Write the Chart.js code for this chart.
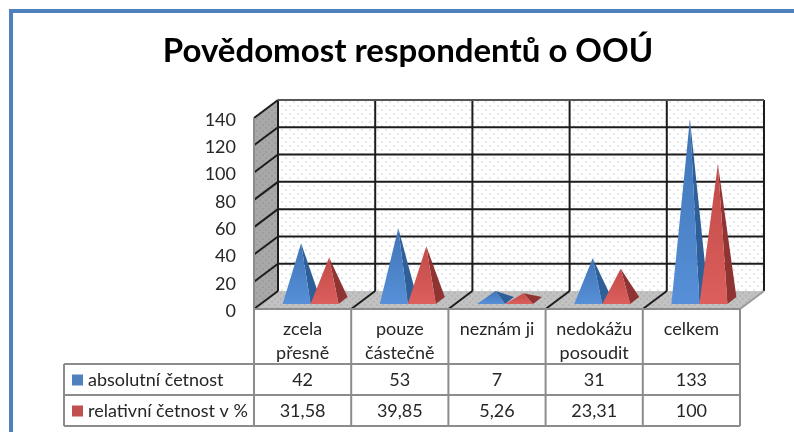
<!DOCTYPE html>
<html lang="cs">
<head>
<meta charset="utf-8">
<title>Povědomost respondentů o OOÚ</title>
<script src="https://cdn.jsdelivr.net/npm/chart.js@4"></script>
<style>
    html, body { margin: 0; padding: 0; background: #fff; }
    canvas { display: block; }
</style>
</head>
<body>
<canvas id="chart" width="794" height="432"></canvas>
<script>
const chartTitle = "Povědomost respondentů o OOÚ";
const categories = [["zcela", "přesně"], ["pouze", "částečně"], ["neznám ji"], ["nedokážu", "posoudit"], ["celkem"]];
const seriesNames = ["absolutní četnost", "relativní četnost v %"];
const absolutni = [42, 53, 7, 31, 133];
const relativni = [31.58, 39.85, 5.26, 23.31, 100];
const yTicks = [0, 20, 40, 60, 80, 100, 120, 140];

const FONT = "Lato, 'Open Sans', sans-serif";
const DEPTH_X = 24, DEPTH_Y = 18;        // back wall offset from the front plane
const COL_SHIFT = 8;                     // pyramids sit a bit back from the front edge
const BASE_GAP = 5, PYR_DX = 9, PYR_DY = 7;
const colors = [
    { top: "#3f74b6", bottom: "#5790d8", side: "#2f5f98", swatch: "#4f81bd" },
    { top: "#c04a48", bottom: "#dc5f5c", side: "#8f3432", swatch: "#c0504d" }
];

function dots(bg, dot, size) {
    const c = document.createElement("canvas");
    c.width = c.height = size;
    const g = c.getContext("2d");
    g.fillStyle = bg;
    g.fillRect(0, 0, size, size);
    g.fillStyle = dot;
    g.fillRect(1, 1, 2, 2);
    g.fillRect(1 + size / 2, 1 + size / 2, 2, 2);
    return g.createPattern(c, "repeat");
}

function poly(ctx, pts, fill) {
    ctx.beginPath();
    pts.forEach((p, i) => i ? ctx.lineTo(p[0], p[1]) : ctx.moveTo(p[0], p[1]));
    ctx.closePath();
    ctx.fillStyle = fill;
    ctx.fill();
}

function line(ctx, x1, y1, x2, y2, color, width) {
    ctx.beginPath();
    ctx.moveTo(x1, y1);
    ctx.lineTo(x2, y2);
    ctx.strokeStyle = color;
    ctx.lineWidth = width;
    ctx.stroke();
}

// the frame round the whole picture
const framePlugin = {
    id: "frame",
    beforeDraw(chart) {
        const ctx = chart.ctx;
        ctx.save();
        ctx.fillStyle = "#fff";
        ctx.fillRect(0, 0, 794, 432);
        ctx.fillStyle = "#4f81bd";
        ctx.fillRect(9, 9, 785, 4);
        ctx.fillRect(9, 9, 4, 423);
        ctx.restore();
    }
};

// walls, floor and grid of the fake 3D box, placed from the real scales
const wallsPlugin = {
    id: "walls",
    beforeDatasetsDraw(chart) {
        const ctx = chart.ctx, x = chart.scales.x, y = chart.scales.y;
        const a = chart.chartArea;
        const step = x.getPixelForValue(1) - x.getPixelForValue(0);
        ctx.save();
        poly(ctx, [[a.left + DEPTH_X, a.top - DEPTH_Y], [a.right + DEPTH_X, a.top - DEPTH_Y],
                   [a.right + DEPTH_X, a.bottom - DEPTH_Y], [a.left + DEPTH_X, a.bottom - DEPTH_Y]],
             dots("#ffffff", "#e2e7ed", 8));
        poly(ctx, [[a.left, a.top], [a.left + DEPTH_X, a.top - DEPTH_Y],
                   [a.left + DEPTH_X, a.bottom - DEPTH_Y], [a.left, a.bottom]],
             dots("#a8a8a8", "#9e9e9e", 6));
        poly(ctx, [[a.left, a.bottom], [a.left + DEPTH_X, a.bottom - DEPTH_Y],
                   [a.right + DEPTH_X, a.bottom - DEPTH_Y], [a.right, a.bottom]],
             dots("#c2c2c2", "#b6b6b6", 6));

        yTicks.forEach(v => {
            const py = y.getPixelForValue(v);
            if (v > 0) {
                line(ctx, a.left, py, a.left + DEPTH_X, py - DEPTH_Y, "#1c1c1c", 2);
                line(ctx, a.left + DEPTH_X, py - DEPTH_Y, a.right + DEPTH_X, py - DEPTH_Y, "#1c1c1c", 2);
            }
        });
        categories.forEach((c, i) => {
            const px = x.getPixelForValue(i) - step / 2;
            line(ctx, px + DEPTH_X, a.top - DEPTH_Y, px + DEPTH_X, a.bottom - DEPTH_Y, "#1c1c1c", 2);
            line(ctx, px + DEPTH_X, a.bottom - DEPTH_Y, px, a.bottom, "#1c1c1c", 2);
        });
        line(ctx, a.right + DEPTH_X, a.top - DEPTH_Y, a.right + DEPTH_X, a.bottom - DEPTH_Y, "#1c1c1c", 2);
        line(ctx, a.right + DEPTH_X, a.bottom - DEPTH_Y, a.right, a.bottom, "#9a9a9a", 2);
        line(ctx, a.left + DEPTH_X, a.top - DEPTH_Y, a.right + DEPTH_X, a.top - DEPTH_Y, "#555", 2);
        line(ctx, a.left, a.top, a.left, a.bottom, "#8c8c8c", 2);
        ctx.restore();
    }
};

// pyramids on top of the (transparent) bars, so they follow the bar positions
const pyramidPlugin = {
    id: "pyramids",
    afterDatasetsDraw(chart) {
        const ctx = chart.ctx;
        ctx.save();
        categories.forEach((c, i) => {
            chart.data.datasets.forEach((ds, d) => {
                const el = chart.getDatasetMeta(d).data[i];
                const half = el.width / 2;
                const cx = el.x + COL_SHIFT;
                const baseY = el.base - BASE_GAP;
                const apex = [cx + PYR_DX / 2, el.y - BASE_GAP - PYR_DY / 2];
                const col = colors[d];
                poly(ctx, [[cx + half, baseY], [cx + half + PYR_DX, baseY - PYR_DY], apex], col.side);
                const grad = ctx.createLinearGradient(0, apex[1], 0, baseY);
                grad.addColorStop(0, col.top);
                grad.addColorStop(1, col.bottom);
                poly(ctx, [[cx - half, baseY], [cx + half, baseY], apex], grad);
            });
        });
        ctx.restore();
    }
};

// data table under the x axis, with the legend keys in its first column
const tablePlugin = {
    id: "dataTable",
    afterDraw(chart) {
        const ctx = chart.ctx, x = chart.scales.x, a = chart.chartArea;
        const rowTops = [364, 395, 426];
        const rows = [absolutni, relativni];
        const left = 64, grey = "#8c8c8c";
        const step = x.getPixelForValue(1) - x.getPixelForValue(0);
        ctx.save();
        line(ctx, a.left, a.bottom, a.right, a.bottom, grey, 2);
        rowTops.forEach(t => line(ctx, left, t, a.right, t, grey, 2));
        line(ctx, left, rowTops[0], left, rowTops[2], grey, 2);
        for (let i = 0; i <= categories.length; i++) {
            const px = x.getPixelForValue(i) - step / 2;
            line(ctx, px, a.bottom, px, rowTops[2], grey, 2);
        }
        ctx.font = "18px " + FONT;
        ctx.textBaseline = "middle";
        rows.forEach((vals, r) => {
            const mid = (rowTops[r] + rowTops[r + 1]) / 2;
            ctx.fillStyle = colors[r].swatch;
            ctx.fillRect(72, mid - 5, 11, 11);
            ctx.fillStyle = "#262626";
            ctx.textAlign = "left";
            ctx.fillText(seriesNames[r], 88, mid + 1);
            ctx.textAlign = "center";
            vals.forEach((v, i) => ctx.fillText(String(v).replace(".", ","), x.getPixelForValue(i), mid + 1));
        });
        ctx.restore();
    }
};

new Chart(document.getElementById("chart"), {
    type: "bar",
    data: {
        labels: categories,
        datasets: [
            { label: seriesNames[0], data: absolutni, backgroundColor: "transparent", barThickness: 28 },
            { label: seriesNames[1], data: relativni, backgroundColor: "transparent", barThickness: 28 }
        ]
    },
    options: {
        responsive: false,
        animation: false,
        layout: { padding: { left: 76, right: 54, top: 0, bottom: 0 } },
        plugins: {
            legend: { display: false },
            tooltip: { enabled: false },
            title: {
                display: true,
                text: chartTitle,
                color: "#000",
                font: { family: FONT, size: 33, weight: "bold", lineHeight: 1.2 },
                padding: { top: 32, bottom: 46.4 }
            }
        },
        scales: {
            x: {
                grid: { display: false, drawTicks: false },
                border: { display: false },
                ticks: {
                    color: "#262626",
                    font: { family: FONT, size: 18, lineHeight: 1.333 },
                    maxRotation: 0,
                    autoSkip: false,
                    padding: 8
                },
                afterFit(scale) { scale.height = 123; }
            },
            y: {
                min: 0,
                max: 140,
                afterBuildTicks(scale) { scale.ticks = yTicks.map(v => ({ value: v })); },
                grid: { display: false, drawTicks: false },
                border: { display: false },
                ticks: {
                    color: "#262626",
                    font: { family: FONT, size: 18 },
                    padding: 18,
                    labelOffset: 2
                },
                afterFit(scale) { scale.width = 178; }
            }
        }
    },
    plugins: [framePlugin, wallsPlugin, pyramidPlugin, tablePlugin]
});
</script>
</body>
</html>
